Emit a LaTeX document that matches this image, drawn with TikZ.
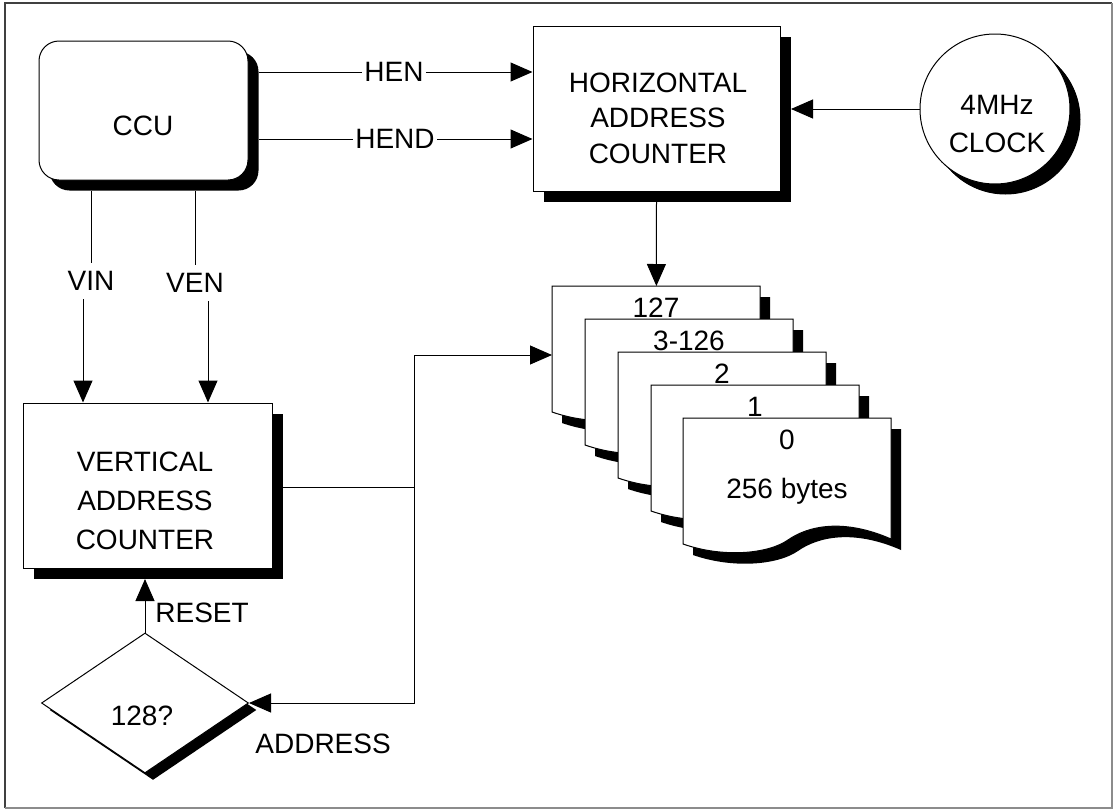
\documentclass[tikz,border=0pt]{standalone}
\usepackage{fontspec}
\setmainfont{Liberation Sans}
\usetikzlibrary{arrows.meta,shapes.geometric,shadows,calc}
\tikzset{
  >={Triangle[length=11pt,width=9.5pt]},
  conn/.style={line width=0.5pt,->},
  wire/.style={line width=0.5pt},
  boxshape/.style={draw=black, line width=0.5pt, fill=white, inner sep=0pt,
     drop shadow={shadow xshift=5.25pt, shadow yshift=-5.25pt, fill=black, opacity=1}},
  txt/.style={inner sep=0pt, align=center, font=\fontsize{14pt}{17.75pt}\selectfont},
  lbl/.style={inner xsep=1pt, inner ysep=4pt, font=\fontsize{14pt}{17pt}\selectfont},
  pagefill/.style={fill=white, draw=black, line width=0.5pt},
}
\newcommand\pagesheet[4]{%
  \begin{scope}[shift={(#2,#3)}]
    \fill[black] (10,11) -- (218,11) -- (218,132) .. controls (170,111) and (135,119) .. (115,133) .. controls (95,147) and (50,151) .. (10,137) -- cycle;
    \filldraw[pagefill] (0,0) -- (208,0) -- (208,121) .. controls (160,100) and (125,108) .. (105,122) .. controls (85,136) and (40,140) .. (0,126) -- cycle;
    \node[inner sep=0pt, minimum width=104pt, minimum height=63pt, anchor=north west] (#1) at (0,0) {};
    \node[txt] (#1-t) at (104,22) {#4};
  \end{scope}}
\begin{document}
\begin{tikzpicture}[x=0.5pt,y=-0.5pt]
\useasboundingbox (0,0) rectangle (1116,809);
% frame
\draw[line width=1.2pt, black!75] (5,808) -- (5,3) -- (1112,3);
\draw[line width=1pt, black!45] (1112,3) -- (1112,808) -- (5,808);

% main blocks
\node[boxshape, rounded corners=10pt, minimum width=104.5pt, minimum height=69.5pt] (ccu) at (143.5,110.5) {};
\node[txt] (ccut) at (143,126) {CCU};
\node[boxshape, minimum width=123.5pt, minimum height=82.5pt] (hac) at (656.5,108.5) {};
\node[txt] (hact) at (658,118) {HORIZONTAL\\ADDRESS\\COUNTER};
\node[boxshape, circle, minimum size=75pt, drop shadow={shadow xshift=5pt, shadow yshift=-5pt, fill=black, opacity=1}] (clock) at (995,109) {};
\node[txt, font=\fontsize{14pt}{19pt}\selectfont] (clockt) at (997,124) {4MHz\\CLOCK};
\node[boxshape, minimum width=124.5pt, minimum height=82.5pt] (vac) at (147.5,485.5) {};
\node[txt, font=\fontsize{14pt}{19.5pt}\selectfont] (vact) at (145,501) {VERTICAL\\ADDRESS\\COUNTER};
\node[draw=black, line width=0.5pt, fill=white, diamond, inner sep=0pt, minimum width=103.5pt, minimum height=70pt,
      drop shadow={shadow xshift=4pt, shadow yshift=-3.5pt, fill=black, opacity=1}] (dia) at (145,703) {};
\node[txt] (diat) at (142,716) {128?};

% memory pages
\pagesheet{p127}{552}{286}{127}
\pagesheet{p3}{585}{319}{3-126}
\pagesheet{p2}{618}{352}{2}
\pagesheet{p1}{651}{385}{1}
\pagesheet{p0}{683}{418}{0}
\node[txt, anchor=base] (bytes) at (787,498) {256 bytes};

% shadow corners
\coordinate (ccuSE) at ($(ccu.south east)+(5.25pt,-5.25pt)$);
\coordinate (hacSE) at ($(hac.south east)+(5.25pt,-5.25pt)$);
\coordinate (vacSE) at ($(vac.south east)+(5.25pt,-5.25pt)$);

% labels
\node[lbl] (hen) at (394,72) {HEN};
\node[lbl] (hend) at (395,139) {HEND};
\node[lbl] (vin) at (91,281) {VIN};
\node[lbl] (ven) at (195,283) {VEN};
\node[lbl, anchor=west] (reset) at (153,613) {RESET};
\node[lbl, anchor=west] (addr) at (253,744) {ADDRESS};

% connectors
\draw[wire] (ccuSE |- hen) -- (hen.west);
\draw[conn] (hen.east) -- (hen.east -| hac.west);
\draw[wire] (ccuSE |- hend) -- (hend.west);
\draw[conn] (hend.east) -- (hend.east -| hac.west);
\draw[conn] (clock.west) -- (clock.west -| hacSE);
\draw[conn] (hacSE -| hac.south) -- (p127.north);

\draw[wire] (ccuSE -| vin) -- (vin.north);
\coordinate (vinlo) at ($(vin.south)+(-4pt,0)$);
\draw[conn] (vinlo) -- (vinlo |- vac.north);
\draw[wire] (ccuSE -| ven) -- (ven.north);
\coordinate (venlo) at ($(ven.south)+(6.5pt,0)$);
\draw[conn] (venlo) -- (venlo |- vac.north);

\coordinate (jm) at (414,487);
\coordinate (jt) at (414,355);
\coordinate (jb) at (414,703);
\draw[wire] (vacSE |- jm) -- (jm);
\draw[conn] (jm) -- (jt) -- (jt -| p127.west);
\draw[conn] (jm) -- (jb) -- (dia.east);
\draw[conn] (dia.north) -- (dia.north |- vacSE);
\end{tikzpicture}
\end{document}
